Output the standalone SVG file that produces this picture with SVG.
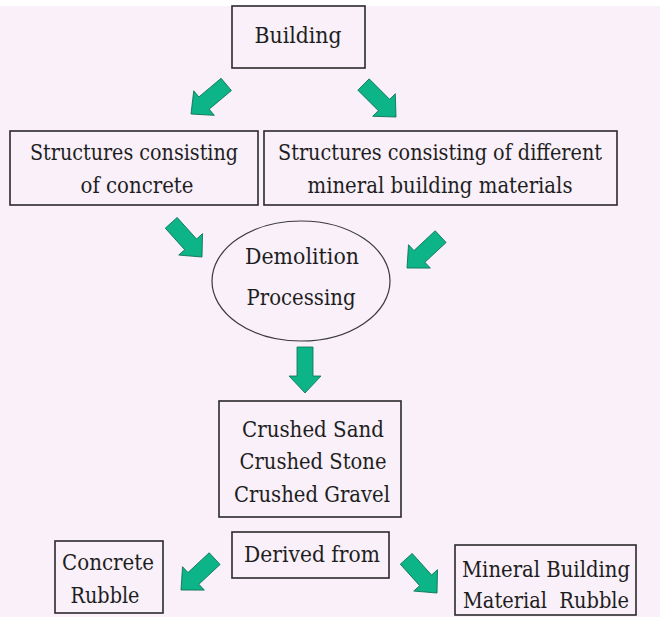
<svg xmlns="http://www.w3.org/2000/svg" width="660" height="617" viewBox="0 0 660 617">
<defs>
<style>
.box{fill:none;stroke:#2a2a2a;stroke-width:1.6}
.t{font-family:'DejaVu Serif',serif;font-size:23px;fill:#1e1e1e;text-anchor:middle}
.arr{fill:#0cb488;stroke:#0a6e53;stroke-width:0.8;stroke-linejoin:miter}
</style>
<path id="arrow" d="M0,0 L-17,-16 L-17,-8 L-46,-8 L-46,8 L-17,8 L-17,16 Z"/>
</defs>
<rect x="0" y="0" width="660" height="617" fill="#ffffff"/>
<rect x="0" y="6" width="660" height="611" fill="#f9f0f9"/>

<g id="connectors">
<use href="#arrow" class="arr" transform="translate(191,114) rotate(140)"/>
<use href="#arrow" class="arr" transform="translate(396,117) rotate(45)"/>
<use href="#arrow" class="arr" transform="translate(202,257) rotate(48)"/>
<use href="#arrow" class="arr" transform="translate(407,268) rotate(137)"/>
<use href="#arrow" class="arr" transform="translate(305,393) rotate(90)"/>
<use href="#arrow" class="arr" transform="translate(181,590) rotate(137)"/>
<use href="#arrow" class="arr" transform="translate(437,593) rotate(48)"/>
</g>

<g id="building">
<rect class="box" x="232" y="6" width="133" height="62"/>
<text class="t" x="298" y="43" textLength="87" lengthAdjust="spacingAndGlyphs">Building</text>
</g>

<g id="structures-concrete">
<rect class="box" x="10" y="131" width="248" height="74"/>
<text class="t" x="134" y="160" textLength="208" lengthAdjust="spacingAndGlyphs">Structures consisting</text>
<text class="t" x="137" y="193" textLength="113" lengthAdjust="spacingAndGlyphs">of concrete</text>
</g>

<g id="structures-mineral">
<rect class="box" x="264" y="131" width="353" height="74"/>
<text class="t" x="440" y="160" textLength="324" lengthAdjust="spacingAndGlyphs">Structures consisting of different</text>
<text class="t" x="440" y="193" textLength="265" lengthAdjust="spacingAndGlyphs">mineral building materials</text>
</g>

<g id="demolition">
<ellipse cx="301" cy="281" rx="89" ry="60" fill="none" stroke="#3a3a3a" stroke-width="1.2"/>
<text class="t" x="302" y="264" textLength="114" lengthAdjust="spacingAndGlyphs">Demolition</text>
<text class="t" x="301" y="305" textLength="109" lengthAdjust="spacingAndGlyphs">Processing</text>
</g>

<g id="crushed">
<rect class="box" x="219" y="401" width="182" height="116"/>
<text class="t" x="313" y="437" textLength="142" lengthAdjust="spacingAndGlyphs">Crushed Sand</text>
<text class="t" x="313" y="469" textLength="147" lengthAdjust="spacingAndGlyphs">Crushed Stone</text>
<text class="t" x="312" y="502" textLength="156" lengthAdjust="spacingAndGlyphs">Crushed Gravel</text>
</g>

<g id="derived">
<rect class="box" x="232" y="532" width="157" height="46"/>
<text class="t" x="312" y="562" textLength="136" lengthAdjust="spacingAndGlyphs">Derived from</text>
</g>

<g id="concrete-rubble">
<rect class="box" x="55" y="541" width="108" height="72"/>
<text class="t" x="108" y="570" textLength="92" lengthAdjust="spacingAndGlyphs">Concrete</text>
<text class="t" x="105" y="603" textLength="69" lengthAdjust="spacingAndGlyphs">Rubble</text>
</g>

<g id="mineral-rubble">
<rect class="box" x="455" y="545" width="181" height="70"/>
<text class="t" x="546" y="577" textLength="168" lengthAdjust="spacingAndGlyphs">Mineral Building</text>
<text class="t" x="546" y="608" textLength="166" lengthAdjust="spacingAndGlyphs" style="white-space:pre">Material  Rubble</text>
</g>
</svg>
